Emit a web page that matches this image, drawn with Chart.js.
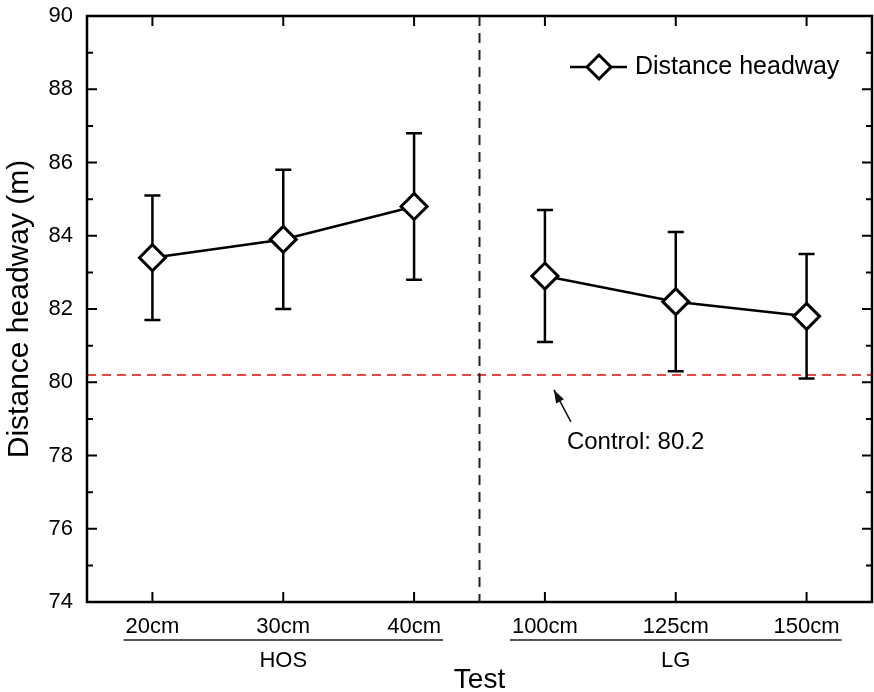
<!DOCTYPE html>
<html>
<head>
<meta charset="utf-8">
<title>Distance headway</title>
<script src="https://cdn.jsdelivr.net/npm/chart.js@4.4.1/dist/chart.umd.min.js"></script>
<style>
  html, body { margin: 0; padding: 0; background: #fff; }
</style>
</head>
<body>
<canvas id="headwayChart" width="874" height="692"></canvas>
<script>
// test conditions and their groups
const tests = ['20cm', '30cm', '40cm', '100cm', '125cm', '150cm'];
const groups = ['HOS', 'LG'];
const groupSizes = [3, 3];

// mean distance headway (m) and error bar half-length
const headway = [83.4, 83.9, 84.8, 82.9, 82.2, 81.8];
const headwayErr = [1.7, 1.9, 2.0, 1.8, 1.9, 1.7];

// control group reference
const controlValue = 80.2;

const yMin = 74, yMax = 90, yStep = 2;

const FONT = "'Liberation Sans', Arial, Helvetica, sans-serif";
const split = groupSizes[0]; // first index of the second group

// extra drawing: frame, inward ticks, error bars, reference lines, legend, group labels
const decorations = {
    id: 'decorations',
    beforeDatasetsDraw(chart) {
        const { ctx, chartArea: a, scales: { x, y } } = chart;
        ctx.save();

        // control line
        const yc = y.getPixelForValue(controlValue);
        ctx.strokeStyle = '#e8453c';
        ctx.lineWidth = 2;
        ctx.setLineDash([9, 6]);
        ctx.beginPath();
        ctx.moveTo(a.left, yc);
        ctx.lineTo(a.right, yc);
        ctx.stroke();

        // divider between the two groups
        const xd = (x.getPixelForValue(split - 1) + x.getPixelForValue(split)) / 2;
        ctx.strokeStyle = '#222';
        ctx.setLineDash([10, 7]);
        ctx.beginPath();
        ctx.moveTo(xd, a.top);
        ctx.lineTo(xd, a.bottom);
        ctx.stroke();

        // error bars
        ctx.setLineDash([]);
        ctx.strokeStyle = '#000';
        ctx.lineWidth = 2.5;
        headway.forEach((v, i) => {
            const px = x.getPixelForValue(i);
            const top = y.getPixelForValue(v + headwayErr[i]);
            const bot = y.getPixelForValue(v - headwayErr[i]);
            ctx.beginPath();
            ctx.moveTo(px, top); ctx.lineTo(px, bot);
            ctx.moveTo(px - 8, top); ctx.lineTo(px + 8, top);
            ctx.moveTo(px - 8, bot); ctx.lineTo(px + 8, bot);
            ctx.stroke();
        });
        ctx.restore();
    },
    afterDraw(chart) {
        const { ctx, chartArea: a, scales: { x, y } } = chart;
        ctx.save();
        ctx.strokeStyle = '#000';
        ctx.lineWidth = 2.5;

        // frame
        ctx.strokeRect(a.left, a.top, a.right - a.left, a.bottom - a.top);

        // inward y ticks on both sides (minor at odd values)
        ctx.lineWidth = 2;
        ctx.beginPath();
        for (let v = yMin; v <= yMax; v += 1) {
            const py = y.getPixelForValue(v);
            const len = (v - yMin) % yStep === 0 ? 10 : 6;
            ctx.moveTo(a.left, py); ctx.lineTo(a.left + len, py);
            ctx.moveTo(a.right, py); ctx.lineTo(a.right - len, py);
        }
        // inward x ticks on top and bottom
        tests.forEach((t, i) => {
            const px = x.getPixelForValue(i);
            ctx.moveTo(px, a.bottom); ctx.lineTo(px, a.bottom - 10);
            ctx.moveTo(px, a.top); ctx.lineTo(px, a.top + 10);
        });
        ctx.stroke();

        // group underlines and names
        let start = 0;
        groups.forEach((g, gi) => {
            const end = start + groupSizes[gi] - 1;
            ctx.font = '22px ' + FONT;
            const x0 = x.getPixelForValue(start) - ctx.measureText(tests[start]).width / 2 - 2;
            const x1 = x.getPixelForValue(end) + ctx.measureText(tests[end]).width / 2 + 2;
            ctx.strokeStyle = '#555';
            ctx.lineWidth = 2;
            ctx.beginPath();
            ctx.moveTo(x0, a.bottom + 38);
            ctx.lineTo(x1, a.bottom + 38);
            ctx.stroke();
            ctx.fillStyle = '#000';
            ctx.textAlign = 'center';
            ctx.textBaseline = 'middle';
            ctx.fillText(g, (x.getPixelForValue(start) + x.getPixelForValue(end)) / 2, a.bottom + 59);
            start = end + 1;
        });

        // control annotation with arrow
        const yc = y.getPixelForValue(controlValue);
        const xa = x.getPixelForValue(split);
        const tip = { x: xa + 9, y: yc + 15 };
        const tail = { x: xa + 26, y: yc + 47 };
        ctx.strokeStyle = '#111';
        ctx.lineWidth = 1.5;
        ctx.beginPath();
        ctx.moveTo(tail.x, tail.y);
        ctx.lineTo(tip.x, tip.y);
        ctx.stroke();
        const ang = Math.atan2(tip.y - tail.y, tip.x - tail.x);
        ctx.fillStyle = '#111';
        ctx.beginPath();
        ctx.moveTo(tip.x, tip.y);
        ctx.lineTo(tip.x - 13 * Math.cos(ang) + 4.5 * Math.sin(ang), tip.y - 13 * Math.sin(ang) - 4.5 * Math.cos(ang));
        ctx.lineTo(tip.x - 13 * Math.cos(ang) - 4.5 * Math.sin(ang), tip.y - 13 * Math.sin(ang) + 4.5 * Math.cos(ang));
        ctx.closePath();
        ctx.fill();
        ctx.font = '24px ' + FONT;
        ctx.fillStyle = '#000';
        ctx.textAlign = 'left';
        ctx.textBaseline = 'middle';
        ctx.fillText('Control: ' + controlValue.toFixed(1), xa + 22, yc + 67);

        // legend
        const ly = a.top + 51;
        const lx = a.right - 302;
        ctx.strokeStyle = '#000';
        ctx.lineWidth = 2.5;
        ctx.beginPath();
        ctx.moveTo(lx, ly);
        ctx.lineTo(lx + 57, ly);
        ctx.stroke();
        const cx = lx + 29;
        ctx.lineWidth = 3;
        ctx.fillStyle = '#fff';
        ctx.beginPath();
        ctx.moveTo(cx - 12, ly);
        ctx.lineTo(cx, ly - 12);
        ctx.lineTo(cx + 12, ly);
        ctx.lineTo(cx, ly + 12);
        ctx.closePath();
        ctx.fill();
        ctx.stroke();
        ctx.font = '25px ' + FONT;
        ctx.fillStyle = '#000';
        ctx.textAlign = 'left';
        ctx.textBaseline = 'middle';
        ctx.fillText(chart.data.datasets[0].label, lx + 65, ly);

        ctx.restore();
    }
};

const ctx = document.getElementById('headwayChart').getContext('2d');

new Chart(ctx, {
    type: 'line',
    data: {
        labels: tests,
        datasets: [{
            label: 'Distance headway',
            data: headway,
            borderColor: '#000',
            borderWidth: 2.5,
            tension: 0,
            pointStyle: 'rectRot',
            pointRadius: 13,
            pointBorderWidth: 3,
            pointBackgroundColor: '#fff',
            pointBorderColor: '#000',
            // no connecting line across the two groups
            segment: {
                borderColor: c => c.p0DataIndex === split - 1 ? 'rgba(0,0,0,0)' : '#000'
            }
        }]
    },
    options: {
        responsive: false,
        animation: false,
        events: [],
        layout: { autoPadding: false, padding: { top: 16, right: 2, left: 0, bottom: 0 } },
        plugins: {
            legend: { display: false },
            tooltip: { enabled: false }
        },
        scales: {
            x: {
                type: 'category',
                offset: true,
                grid: { display: false, drawTicks: false },
                border: { display: false },
                ticks: {
                    color: '#000',
                    padding: 12,
                    font: { family: FONT, size: 22 }
                },
                title: {
                    display: true,
                    text: 'Test',
                    color: '#000',
                    font: { family: FONT, size: 28 },
                    padding: { top: 0, bottom: -5 }
                },
                afterFit: s => {
                    s.height = 90;
                    s.paddingLeft = 0;
                    s.paddingRight = 0;
                }
            },
            y: {
                min: yMin,
                max: yMax,
                grid: { display: false, drawTicks: false },
                border: { display: false },
                ticks: {
                    stepSize: yStep,
                    color: '#000',
                    padding: 14,
                    font: { family: FONT, size: 22 }
                },
                title: {
                    display: true,
                    text: 'Distance headway (m)',
                    color: '#000',
                    font: { family: FONT, size: 30 },
                    padding: { top: 2, bottom: 0 }
                },
                afterFit: s => {
                    s.width = 87;
                    s.paddingTop = 0;
                    s.paddingBottom = 0;
                }
            }
        }
    },
    plugins: [decorations]
});
</script>
</body>
</html>
